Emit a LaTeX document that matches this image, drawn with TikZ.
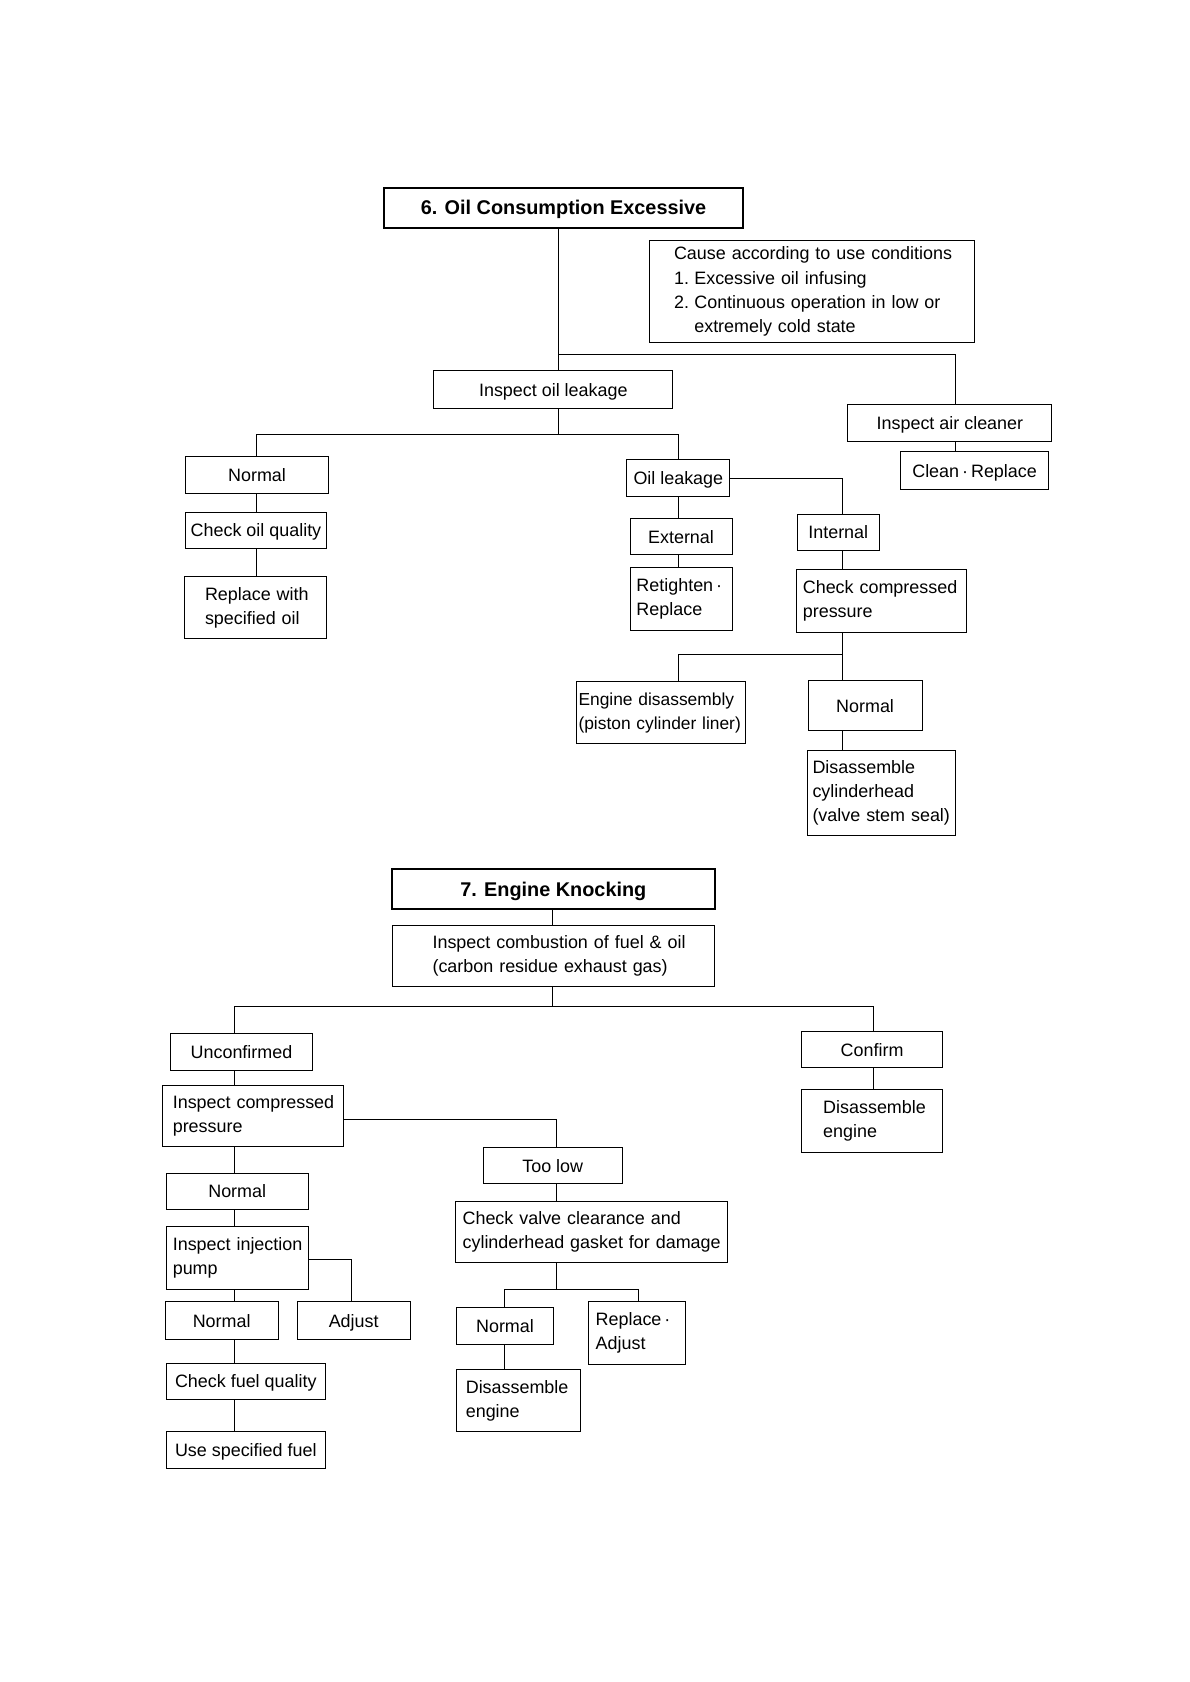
\documentclass[tikz,border=0pt]{standalone}
\usepackage{fontspec}
\setmainfont{Liberation Sans}
\newcommand\fs{\fontsize{16.7}{22.4}\selectfont}
\newcommand\fsn{\fontsize{16.2}{22.4}\selectfont}
\newcommand\fst{\fontsize{18.5}{22}\selectfont\bfseries}
\newcommand\ml[1]{\mbox{#1}}
\begin{document}
\begin{tikzpicture}[x=1pt,y=-1pt,
 box/.style={draw, line width=0.9pt, anchor=north west, inner sep=0pt, outer sep=0pt, font=\fs},
 one/.style={box, align=center, text height=12pt, text depth=0pt},
 multi/.style={box, align=left},
 ttl/.style={draw, line width=1.8pt, anchor=north west, inner sep=0pt, outer sep=0pt, font=\fst, align=center, text height=13.3pt, text depth=0pt},
 conn/.style={line width=0.8pt}]
\fill[white] (0,0) rectangle (1108.7,1567.1);
\useasboundingbox (0,0) rectangle (1108.7,1567.1);

% ---------- Section 6 ----------
\node[ttl, minimum width=334pt, minimum height=37pt] (title) at (358,175) {6. Oil Consumption Excessive};
\node[multi, minimum width=303pt, minimum height=95pt, text width=257pt, inner xsep=23pt] (cause) at (605,224) {\ml{Cause according to use conditions}\\\ml{1.\hspace{5pt}Excessive oil infusing}\\\ml{2.\hspace{5pt}Continuous operation in low or}\\\ml{\hspace*{18.9pt}extremely cold state}};
\node[one, minimum width=223pt, minimum height=36pt] (inspleak) at (404,345) {Inspect oil leakage};
\node[one, minimum width=190pt, minimum height=34pt] (airclean) at (790,377) {Inspect air cleaner};
\node[one, minimum width=138pt, minimum height=35pt] (cleanrep) at (839,421) {Clean\,·\,Replace};
\node[one, minimum width=133pt, minimum height=35pt] (normal1) at (173,425) {Normal};
\node[one, minimum width=131pt, minimum height=34pt] (checkoil) at (173,477) {Check oil quality};
\node[multi, minimum width=132pt, minimum height=58pt, text width=94pt, inner xsep=19pt] (replspec) at (172,537) {\ml{Replace with}\\\ml{specified oil}};
\node[one, minimum width=96pt, minimum height=35pt] (oilleak) at (584,428) {Oil leakage};
\node[one, minimum width=95pt, minimum height=34pt] (external) at (587,483) {External};
\node[multi, minimum width=95pt, minimum height=58pt, text width=83pt, inner xsep=6pt] (retight) at (587,529) {\ml{Retighten\,·}\\\ml{Replace}};
\node[one, minimum width=76pt, minimum height=34pt] (internal) at (743,479) {Internal};
\node[multi, minimum width=158pt, minimum height=58pt, text width=146pt, inner xsep=6pt] (checkcomp) at (742,531) {\ml{Check compressed}\\\ml{pressure}};
\node[multi, minimum width=158pt, minimum height=58pt, text width=154pt, inner xsep=2pt, font=\fsn] (engdis) at (537,635) {\ml{Engine disassembly}\\\ml{(piston cylinder liner)}};
\node[one, minimum width=106pt, minimum height=47pt] (normal2) at (753,634) {Normal};
\node[multi, minimum width=138pt, minimum height=79pt, text width=128pt, inner xsep=5pt] (discyl) at (752,699) {\ml{Disassemble}\\\ml{cylinderhead}\\\ml{(valve stem seal)}};

\coordinate (t1) at (520,330);
\coordinate (a1) at (890,330);
\coordinate (b1) at (520,405);
\coordinate (b2) at (239,405);
\coordinate (b3) at (632,405);
\coordinate (c1) at (785,445);
\coordinate (d1) at (785,610);
\coordinate (d2) at (632,610);

\draw[conn] (title.south -| t1) -- (inspleak.north -| t1);
\draw[conn] (t1) -- (a1) -- (airclean.north -| a1);
\draw[conn] (airclean.south -| a1) -- (cleanrep.north -| a1);
\draw[conn] (inspleak.south -| b1) -- (b1);
\draw[conn] (normal1.north -| b2) -- (b2) -- (b3) -- (oilleak.north -| b3);
\draw[conn] (normal1.south -| b2) -- (checkoil.north -| b2);
\draw[conn] (checkoil.south -| b2) -- (replspec.north -| b2);
\draw[conn] (oilleak.south -| b3) -- (external.north -| b3);
\draw[conn] (external.south -| b3) -- (retight.north -| b3);
\draw[conn] (oilleak.east) -- (oilleak.east -| c1) -- (internal.north -| c1);
\draw[conn] (internal.south -| c1) -- (checkcomp.north -| c1);
\draw[conn] (checkcomp.south -| c1) -- (normal2.north -| c1);
\draw[conn] (d1) -- (d2) -- (engdis.north -| d2);
\draw[conn] (normal2.south -| c1) -- (discyl.north -| c1);

% ---------- Section 7 ----------
\node[ttl, minimum width=301pt, minimum height=37pt] (title2) at (365,810) {7. Engine Knocking};
\node[multi, minimum width=300pt, minimum height=57pt, text width=226pt, inner xsep=37pt] (inspcomb) at (366,862) {\ml{Inspect combustion of fuel \& oil}\\\ml{(carbon residue exhaust gas)}};
\node[one, minimum width=132pt, minimum height=34pt] (unconf) at (159,963) {Unconfirmed};
\node[one, minimum width=131pt, minimum height=34pt] (confirm) at (747,961) {Confirm};
\node[multi, minimum width=131pt, minimum height=59pt, text width=91pt, inner xsep=20pt] (disseng1) at (747,1015) {\ml{Disassemble}\\\ml{engine}};
\node[multi, minimum width=169pt, minimum height=57pt, text width=149pt, inner xsep=10pt] (inspcompP) at (151,1011) {\ml{Inspect compressed}\\\ml{pressure}};
\node[one, minimum width=130pt, minimum height=34pt] (toolow) at (450,1069) {Too low};
\node[multi, minimum width=254pt, minimum height=57pt, text width=240pt, inner xsep=7pt] (checkvalve) at (424,1119) {\ml{Check valve clearance and}\\\ml{cylinderhead gasket for damage}};
\node[one, minimum width=91pt, minimum height=35pt] (normal4) at (425,1218) {Normal};
\node[multi, minimum width=91pt, minimum height=58pt, text width=77pt, inner xsep=7pt] (repladj) at (548,1213) {\ml{Replace\,·}\\\ml{Adjust}};
\node[multi, minimum width=116pt, minimum height=58pt, text width=98pt, inner xsep=9pt] (disseng2) at (425,1276) {\ml{Disassemble}\\\ml{engine}};
\node[one, minimum width=132pt, minimum height=34pt] (normal3) at (155,1093) {Normal};
\node[multi, minimum width=132pt, minimum height=58pt, text width=120pt, inner xsep=6pt] (inspinj) at (155,1143) {\ml{Inspect injection}\\\ml{pump}};
\node[one, minimum width=105pt, minimum height=35pt] (normal5) at (154,1213) {Normal};
\node[one, minimum width=105pt, minimum height=35pt] (adjust) at (277,1213) {Adjust};
\node[one, minimum width=148pt, minimum height=34pt] (checkfuel) at (155,1270) {Check fuel quality};
\node[one, minimum width=148pt, minimum height=34pt] (usefuel) at (155,1334) {Use specified fuel};

\coordinate (e1) at (515,838);
\coordinate (f1) at (515,938);
\coordinate (f2) at (218,938);
\coordinate (f3) at (814,938);
\coordinate (g1) at (518,1043);
\coordinate (h1) at (518,1201);
\coordinate (h2) at (470,1201);
\coordinate (h3) at (595,1201);
\coordinate (k1) at (327,1173);

\draw[conn] (title2.south -| e1) -- (inspcomb.north -| e1);
\draw[conn] (inspcomb.south -| f1) -- (f1);
\draw[conn] (unconf.north -| f2) -- (f2) -- (f3) -- (confirm.north -| f3);
\draw[conn] (confirm.south -| f3) -- (disseng1.north -| f3);
\draw[conn] (unconf.south -| f2) -- (inspcompP.north -| f2);
\draw[conn] (inspcompP.south -| f2) -- (normal3.north -| f2);
\draw[conn] (normal3.south -| f2) -- (inspinj.north -| f2);
\draw[conn] (inspinj.south -| f2) -- (normal5.north -| f2);
\draw[conn] (normal5.south -| f2) -- (checkfuel.north -| f2);
\draw[conn] (checkfuel.south -| f2) -- (usefuel.north -| f2);
\draw[conn] (inspinj.east |- k1) -- (k1) -- (adjust.north -| k1);
\draw[conn] (inspcompP.east |- g1) -- (g1) -- (toolow.north -| g1);
\draw[conn] (toolow.south -| g1) -- (checkvalve.north -| g1);
\draw[conn] (checkvalve.south -| h1) -- (h1);
\draw[conn] (normal4.north -| h2) -- (h2) -- (h3) -- (repladj.north -| h3);
\draw[conn] (normal4.south -| h2) -- (disseng2.north -| h2);
\end{tikzpicture}
\end{document}
